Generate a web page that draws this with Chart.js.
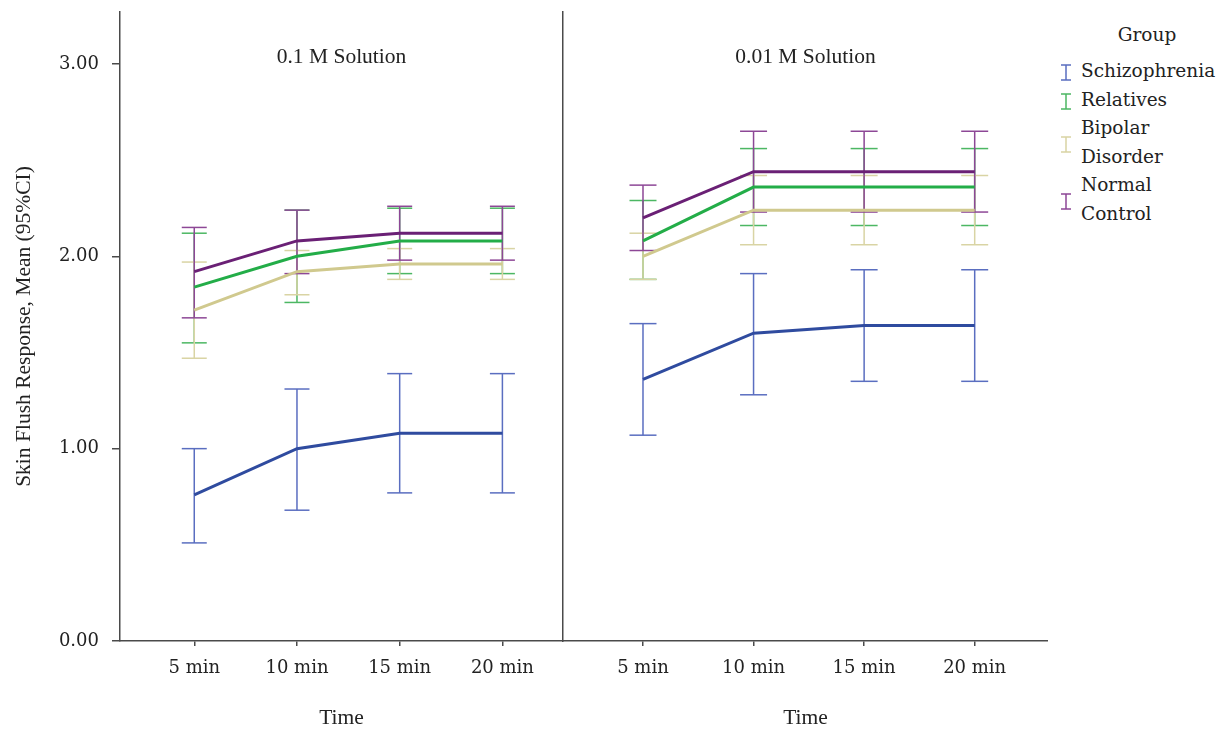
<!DOCTYPE html>
<html>
<head>
<meta charset="utf-8">
<title>Skin Flush Response</title>
<script src="https://cdn.jsdelivr.net/npm/chart.js@4.4.1/dist/chart.umd.min.js"></script>
<style>
  html, body { margin: 0; padding: 0; background: #fff; }
  #wrap { position: relative; width: 1232px; height: 729px; overflow: hidden; }
  #leftBox { position: absolute; left: 0; top: 0; width: 563px; height: 729px; }
  #rightBox { position: absolute; left: 553px; top: 0; width: 495px; height: 729px; }
  #legend { position: absolute; left: 1058px; top: 21px; width: 178px;
            font-family: 'DejaVu Serif'; font-size: 18.5px; color: #222; }
  #legend .head { text-align: center; line-height: 28px; margin-bottom: 8px; }
  #legend .item { display: flex; align-items: center; }
  #legend .item svg { flex: none; margin: 3px 9px 0 2px; }
  #legend .txt { line-height: 28.6px; }
</style>
</head>
<body>
<div id="wrap">
  <div id="leftBox"><canvas id="leftChart"></canvas></div>
  <div id="rightBox"><canvas id="rightChart"></canvas></div>
  <div id="legend"></div>
</div>
<script>
// Datos del gráfico
const timeLabels = ['5 min', '10 min', '15 min', '20 min'];
const groupNames = ['Schizophrenia', 'Relatives', 'Bipolar Disorder', 'Normal Control'];
const legendLines = [['Schizophrenia'], ['Relatives'], ['Bipolar', 'Disorder'], ['Normal', 'Control']];
const yTickValues = [0, 1, 2, 3];
const panelTitles = ['0.1 M Solution', '0.01 M Solution'];

// 0.1 M solution
const schizoMean1 = [0.76, 1.00, 1.08, 1.08];
const schizoLow1 = [0.51, 0.68, 0.77, 0.77];
const schizoHigh1 = [1.00, 1.31, 1.39, 1.39];
const relMean1 = [1.84, 2.00, 2.08, 2.08];
const relLow1 = [1.55, 1.76, 1.91, 1.91];
const relHigh1 = [2.12, 2.24, 2.25, 2.25];
const bipMean1 = [1.72, 1.92, 1.96, 1.96];
const bipLow1 = [1.47, 1.80, 1.88, 1.88];
const bipHigh1 = [1.97, 2.03, 2.04, 2.04];
const normMean1 = [1.92, 2.08, 2.12, 2.12];
const normLow1 = [1.68, 1.91, 1.98, 1.98];
const normHigh1 = [2.15, 2.24, 2.26, 2.26];

// 0.01 M solution
const schizoMean2 = [1.36, 1.60, 1.64, 1.64];
const schizoLow2 = [1.07, 1.28, 1.35, 1.35];
const schizoHigh2 = [1.65, 1.91, 1.93, 1.93];
const relMean2 = [2.08, 2.36, 2.36, 2.36];
const relLow2 = [1.88, 2.16, 2.16, 2.16];
const relHigh2 = [2.29, 2.56, 2.56, 2.56];
const bipMean2 = [2.00, 2.24, 2.24, 2.24];
const bipLow2 = [1.88, 2.06, 2.06, 2.06];
const bipHigh2 = [2.12, 2.42, 2.42, 2.42];
const normMean2 = [2.20, 2.44, 2.44, 2.44];
const normLow2 = [2.03, 2.23, 2.23, 2.23];
const normHigh2 = [2.37, 2.65, 2.65, 2.65];

// colores: línea de medias y barras de error
const lineColors = ['#2f4b9f', '#23ad48', '#d0c98e', '#6a2075'];
const barColors = ['#5a6ec0', '#4cb763', '#d9d4a4', '#8d4796'];

const textColor = '#222';
const axisColor = '#4a4a4a';
const tickFont = { family: 'DejaVu Serif', size: 18 };
const titleFont = { family: 'Liberation Serif', size: 21.5 };

// título dentro de cada panel
const panelTitlePlugin = {
  id: 'panelTitle',
  afterDraw(chart, args, opts) {
    const { ctx, chartArea } = chart;
    ctx.save();
    ctx.font = '21.5px "Liberation Serif"';
    ctx.fillStyle = textColor;
    ctx.textAlign = 'center';
    ctx.textBaseline = 'middle';
    ctx.fillText(opts.text, (chartArea.left + chartArea.right) / 2, chartArea.top + opts.offset);
    ctx.restore();
  }
};

function buildDatasets(means, lows, highs, capRadius) {
  const sets = [];
  means.forEach(function(m, g) {
    sets.push({
      label: groupNames[g],
      data: m.map((v, i) => ({ x: i, y: v })),
      borderColor: lineColors[g],
      borderWidth: 3,
      pointRadius: 0,
      tension: 0,
      order: 3 - g
    });
  });
  // barras de error: segmento vertical + remates con pointStyle 'line'
  lows.forEach(function(lo, g) {
    const pts = [];
    lo.forEach(function(v, i) {
      pts.push({ x: i, y: v }, { x: i, y: highs[g][i] }, { x: i, y: null });
    });
    sets.push({
      label: groupNames[g] + ' 95% CI',
      data: pts,
      borderColor: barColors[g],
      borderWidth: 1.5,
      spanGaps: false,
      pointStyle: 'line',
      pointRadius: capRadius,
      pointBorderColor: barColors[g],
      pointBorderWidth: 1.5,
      order: 7 - g
    });
  });
  return sets;
}

function xScale(min, max) {
  return {
    type: 'linear',
    min: min,
    max: max,
    afterBuildTicks: function(scale) {
      scale.ticks = timeLabels.map((_, i) => ({ value: i }));
    },
    ticks: {
      callback: function(value) { return timeLabels[value]; },
      font: tickFont,
      color: textColor,
      padding: 12,
      maxRotation: 0,
      autoSkip: false
    },
    grid: { drawOnChartArea: false, tickLength: 5, color: axisColor, lineWidth: 1.5 },
    border: { color: axisColor, width: 1.5 },
    title: { display: true, text: 'Time', font: titleFont, color: textColor, padding: { bottom: -2 } },
    afterFit: function(scale) {
      scale.height = 88;
      scale.paddingLeft = 0;
      scale.paddingRight = 0;
    }
  };
}

function makeOptions(xMin, xMax, showY, title) {
  const y = {
    min: 0,
    max: 3.27,
    afterBuildTicks: function(scale) {
      scale.ticks = yTickValues.map(v => ({ value: v }));
    },
    border: { color: axisColor, width: 1.5 }
  };
  if (showY) {
    y.ticks = { callback: v => v.toFixed(2), font: tickFont, color: textColor, padding: 13 };
    y.grid = { drawOnChartArea: false, tickLength: 8, color: axisColor, lineWidth: 1.5 };
    y.title = { display: true, text: 'Skin Flush Response, Mean (95%CI)', font: titleFont, color: textColor, padding: { top: 11 } };
  } else {
    y.ticks = { display: false };
    y.grid = { drawOnChartArea: false, drawTicks: false };
  }
  y.afterFit = function(scale) {
    scale.width = showY ? 120 : 10;
    scale.paddingTop = 0;
    scale.paddingBottom = 0;
  };
  return {
    responsive: true,
    maintainAspectRatio: false,
    animation: false,
    events: [],
    layout: { autoPadding: false, padding: { top: 12, left: 0, right: 0, bottom: 0 } },
    plugins: {
      legend: { display: false },
      tooltip: { enabled: false },
      panelTitle: { text: title, offset: 45 }
    },
    scales: { x: xScale(xMin, xMax), y: y }
  };
}

document.addEventListener('DOMContentLoaded', function() {
  new Chart(document.getElementById('leftChart'), {
    type: 'line',
    data: {
      datasets: buildDatasets(
        [schizoMean1, relMean1, bipMean1, normMean1],
        [schizoLow1, relLow1, bipLow1, normLow1],
        [schizoHigh1, relHigh1, bipHigh1, normHigh1],
        12.5)
    },
    options: makeOptions(-0.723, 3.59, true, panelTitles[0]),
    plugins: [panelTitlePlugin]
  });

  new Chart(document.getElementById('rightChart'), {
    type: 'line',
    data: {
      datasets: buildDatasets(
        [schizoMean2, relMean2, bipMean2, normMean2],
        [schizoLow2, relLow2, bipLow2, normLow2],
        [schizoHigh2, relHigh2, bipHigh2, normHigh2],
        13.5)
    },
    options: makeOptions(-0.7235, 3.663, false, panelTitles[1]),
    plugins: [panelTitlePlugin]
  });

  // leyenda en HTML (las etiquetas ocupan dos líneas)
  const legend = document.getElementById('legend');
  let html = '<div class="head">Group</div>';
  legendLines.forEach(function(lines, g) {
    html += '<div class="item"><svg width="12" height="17" viewBox="0 0 12 17">' +
      '<path d="M6 1 V16 M1 1 H11 M1 16 H11" stroke="' + barColors[g] + '" stroke-width="1.5" fill="none"/></svg>' +
      '<div class="txt">' + lines.join('<br>') + '</div></div>';
  });
  legend.innerHTML = html;
});
</script>
</body>
</html>
